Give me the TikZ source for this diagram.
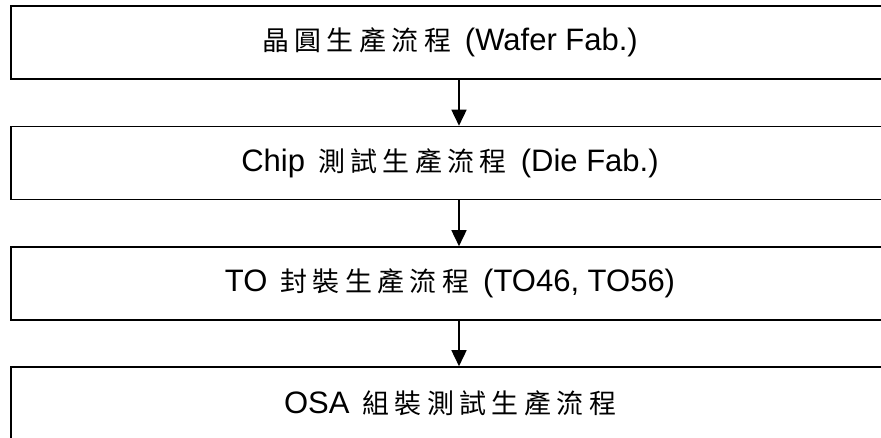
\documentclass[tikz,border=0pt]{standalone}
\usepackage{fontspec}
\setmainfont{Liberation Sans}
\newfontfamily\cjk[Scale=0.87,LetterSpace=20]{Noto Sans CJK TC}
\usetikzlibrary{arrows.meta}
\newcommand{\zh}[1]{{\cjk #1}}
\newcommand{\pgap}{\hspace{13pt}}
\newcommand{\qgap}{\hspace{14pt}}
\begin{document}
\begin{tikzpicture}[x=1pt,y=-1pt]
\useasboundingbox (0,0) rectangle (881,437);
\tikzset{
  box/.style={draw, line width=1.6pt, minimum width=878pt, minimum height=73pt, inner sep=0pt,
    font=\fontsize{31}{36}\selectfont},
  arr/.style={line width=1.6pt, -{Triangle[width=15pt,length=16pt]}}
}
\node[box] (b1) at (450,42.5) {\zh{晶圓生產流程}\qgap(Wafer Fab.)};
\node[box] (b2) at (450,163) {Chip\pgap\zh{測試生產流程}\qgap(Die Fab.)};
\node[box] (b3) at (450,283.5) {TO\pgap\zh{封裝生產流程}\qgap(TO46, TO56)};
\node[box] (b4) at (450,403.5) {OSA\pgap\zh{組裝測試生產流程}};
\coordinate (ax) at (459,0);
\draw[arr] (b1.south -| ax) -- (b2.north -| ax);
\draw[arr] (b2.south -| ax) -- (b3.north -| ax);
\draw[arr] (b3.south -| ax) -- (b4.north -| ax);
\end{tikzpicture}
\end{document}
